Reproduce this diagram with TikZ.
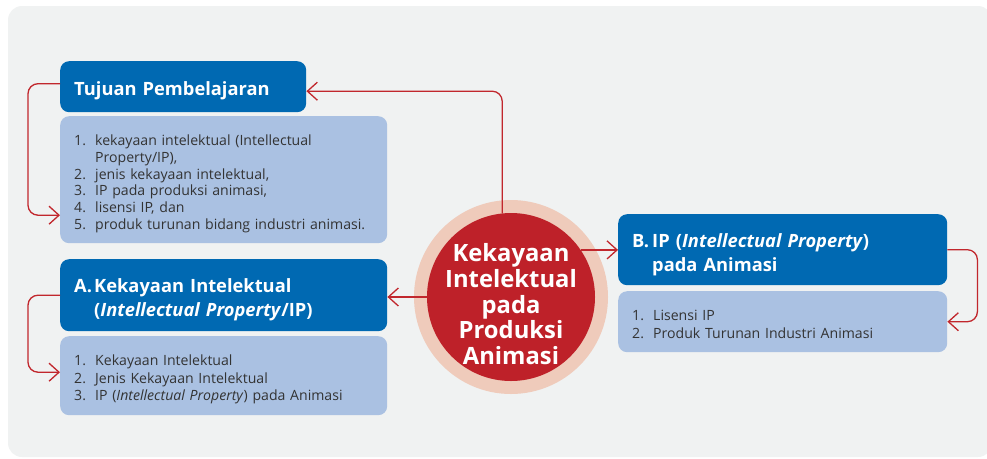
\documentclass[tikz,border=0pt]{standalone}
\usepackage{fontspec}
\setmainfont{Open Sans}
\usetikzlibrary{arrows.meta}
\definecolor{bgc}{HTML}{F0F2F2}
\definecolor{dblue}{HTML}{0069B2}
\definecolor{lblue}{HTML}{AAC1E2}
\definecolor{cred}{HTML}{BE2129}
\definecolor{peach}{HTML}{EFCBBB}
\definecolor{lred}{HTML}{C1272D}
\definecolor{txt}{HTML}{333333}
\tikzset{
  hdr/.style={rectangle, rounded corners=9pt, fill=dblue, text=white, anchor=north west,
    inner xsep=14pt, inner ysep=0pt, align=left, font=\bfseries\fontsize{18.3}{24}\selectfont},
  lst/.style={rectangle, rounded corners=9pt, fill=lblue, text=txt, anchor=north west,
    inner xsep=14pt, inner ysep=0pt, align=left, font=\fontsize{14.1}{17.7}\selectfont},
  conn/.style={draw=lred, line width=1.3pt, rounded corners=10pt,
    -{Straight Barb[length=10pt,width=18pt,line width=1.3pt]}},
}
\newcommand{\lowr}[2][-4.5pt]{\raisebox{#1}[\height][\depth]{#2}}
\begin{document}
\begin{tikzpicture}[x=1pt,y=-1pt]
\useasboundingbox (0,0) rectangle (987,458);
\fill[bgc, rounded corners=14pt] (8,6) rectangle (992,457);

\node[hdr, minimum width=246pt, minimum height=51pt, text width=218pt] (tuj) at (60,61)
  {\lowr{Tujuan Pembelajaran}};
\node[lst, minimum width=327pt, minimum height=127pt, text width=299pt,
  font=\fontsize{14.1}{16.8}\selectfont] (l1) at (60,116)
  {\lowr{\begin{tabular}{@{}p{21pt}@{}l@{}}
   1.& kekayaan intelektual (Intellectual\\
     & Property/IP),\\
   2.& jenis kekayaan intelektual,\\
   3.& IP pada produksi animasi,\\
   4.& lisensi IP, dan\\
   5.& produk turunan bidang industri animasi.
   \end{tabular}}};

\node[hdr, minimum width=327pt, minimum height=72pt, text width=299pt] (ha) at (60,259)
  {\lowr{\begin{tabular}{@{}p{20pt}@{}l@{}}
   A.& Kekayaan Intelektual\\
     & (\textit{Intellectual Property}/IP)
   \end{tabular}}};
\node[lst, minimum width=327pt, minimum height=79pt, text width=299pt] (la) at (60,336)
  {\lowr[-4pt]{\begin{tabular}{@{}p{21pt}@{}l@{}}
   1.& Kekayaan Intelektual\\
   2.& Jenis Kekayaan Intelektual\\
   3.& IP (\textit{Intellectual Property}) pada Animasi
   \end{tabular}}};

\node[hdr, minimum width=329pt, minimum height=71pt, text width=301pt] (hb) at (618,214)
  {\lowr{\begin{tabular}{@{}p{20pt}@{}l@{}}
   B.& IP (\textit{Intellectual Property})\\
     & pada Animasi
   \end{tabular}}};
\node[lst, minimum width=329pt, minimum height=61pt, text width=301pt] (lb) at (618,291)
  {\lowr[-4pt]{\begin{tabular}{@{}p{21pt}@{}l@{}}
   1.& Lisensi IP\\
   2.& Produk Turunan Industri Animasi
   \end{tabular}}};

\node[circle, fill=peach, minimum size=194pt, inner sep=0pt] (outer) at (511,297) {};
\node[circle, fill=cred, minimum size=168pt, inner sep=0pt, text=white,
  font=\bfseries\fontsize{23.8}{25}\selectfont] (inner) at (511,297)
  {\makebox[0pt]{\raisebox{-17pt}[0pt][0pt]{\begin{tabular}{@{}c@{}}Kekayaan\\Intelektual\\pada\\Produksi\\Animasi\end{tabular}}}};

\draw[conn] (inner.96) |- ([yshift=-4.5pt]tuj.east);
\draw[conn] ([yshift=3pt]tuj.west) -- ++(-32,0) |- ([yshift=-35.5pt]l1.west);
\draw[conn] (inner.west) -- (inner.west -| ha.east);
\draw[conn] (ha.west) -- ++(-32,0) |- ([yshift=3.5pt]la.west);
\draw[conn] (inner.34) -- (inner.34 -| hb.west);
\draw[conn] (hb.east) -- ++(30,0) |- (lb.east);
\end{tikzpicture}
\end{document}
